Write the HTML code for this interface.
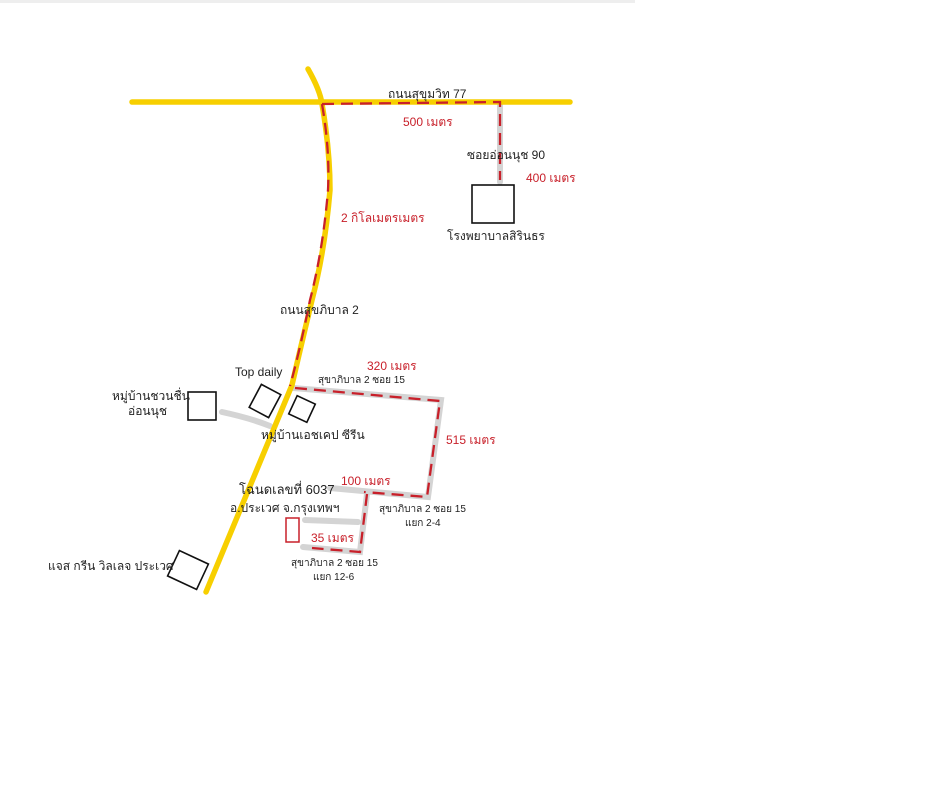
<!DOCTYPE html>
<html><head><meta charset="utf-8"><style>
body{margin:0;background:#fff;}
svg{display:block}
text{font-family:"Liberation Sans","Noto Sans CJK SC",sans-serif;}
</style></head><body>
<svg width="948" height="800" viewBox="0 0 948 800">
<rect x="0" y="0" width="635" height="3" fill="#eee"/>
<g stroke="#d4d4d4" stroke-width="6" fill="none" stroke-linecap="round">
<line x1="500" y1="104" x2="500" y2="182"/>
<polyline points="293,388 441,400 428,497 330,488"/>
<path d="M222,412 Q250,418 270,426"/>
<polyline points="305,520 358,522"/>
<polyline points="367,494 360,552 303,547"/>
</g>
<g stroke="#f7cf00" stroke-width="5.5" fill="none" stroke-linecap="round">
<line x1="132" y1="102" x2="570" y2="102"/>
<path d="M308,69 Q320,90 322,104 Q330,150 330,190 Q325,250 312,300 Q300,350 292,385 L206,592"/>
</g>
<g stroke="#c8202a" stroke-width="2.3" fill="none" stroke-dasharray="12,7">
<polyline points="322,104 500,102 500,180"/>
<path d="M322,104 Q330,150 328,190 Q323,250 310,300 Q300,350 290,386"/>
<polyline points="295,388 440,401 427,497 364,492"/>
<polyline points="367,494 360,552 312,548"/>
</g>
<g stroke="#111" stroke-width="1.6" fill="#fff">
<rect x="472" y="185" width="42" height="38"/>
<rect x="188" y="392" width="28" height="28"/>
<rect x="254" y="388" width="22" height="26" transform="rotate(28 265 401)"/>
<rect x="292" y="399" width="20" height="20" transform="rotate(25 302 409)"/>
<rect x="172" y="556" width="32" height="28" transform="rotate(25 188 570)"/>
</g>
<rect x="286" y="518" width="13" height="24" fill="none" stroke="#c8202a" stroke-width="1.5"/>
<g font-size="12" fill="#222">
<text x="388" y="98">ถนนสุขุมวิท 77</text>
<text x="467" y="159">ซอยอ่อนนุช 90</text>
<text x="447" y="240">โรงพยาบาลสิรินธร</text>
<text x="280" y="314">ถนนสุขภิบาล 2</text>
<text x="235" y="376">Top daily</text>
<text x="112" y="400">หมู่บ้านชวนชื่น</text>
<text x="128" y="415">อ่อนนุช</text>
<text x="261" y="439">หมู่บ้านเอชเคป ซีรีน</text>
<text x="239" y="494" font-size="13">โฉนดเลขที่ 6037</text>
<text x="230" y="512">อ.ประเวศ จ.กรุงเทพฯ</text>
<text x="48" y="570">แจส กรีน วิลเลจ ประเวศ</text>
<text x="318" y="383" font-size="10">สุขาภิบาล 2 ซอย 15</text>
<text x="379" y="512" font-size="10">สุขาภิบาล 2 ซอย 15</text>
<text x="405" y="526" font-size="10">แยก 2-4</text>
<text x="291" y="566" font-size="10">สุขาภิบาล 2 ซอย 15</text>
<text x="313" y="580" font-size="10">แยก 12-6</text>
</g>
<g font-size="12" fill="#c8202a">
<text x="403" y="126">500 เมตร</text>
<text x="526" y="182">400 เมตร</text>
<text x="341" y="222">2 กิโลเมตรเมตร</text>
<text x="367" y="370">320 เมตร</text>
<text x="446" y="444">515 เมตร</text>
<text x="341" y="485">100 เมตร</text>
<text x="311" y="542">35 เมตร</text>
</g>
</svg>
</body></html>
